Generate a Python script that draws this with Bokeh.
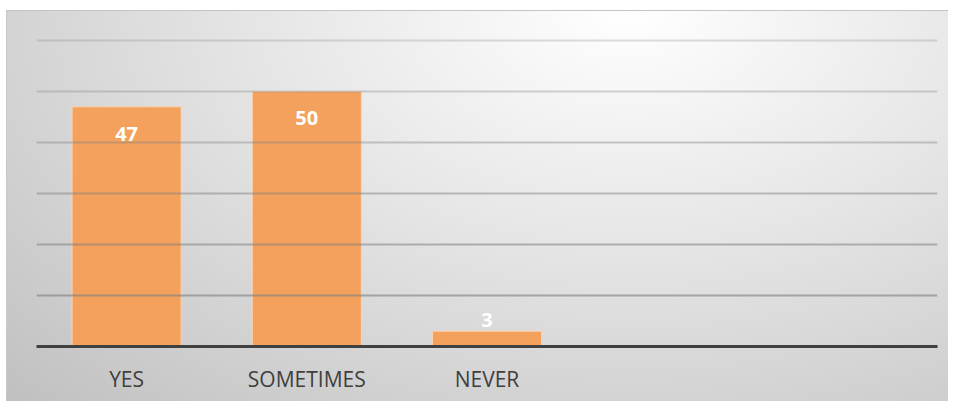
from bokeh.plotting import figure
from bokeh.models import ColumnDataSource, Range1d, FixedTicker, Span
from bokeh.core.properties import value
from bokeh.embed import file_html
from bokeh.resources import INLINE

categories = ["YES", "SOMETIMES", "NEVER"]
counts = [47, 50, 3]
n_slots = 5
grid_levels = [10, 20, 30, 40, 50, 60]

xs = [i + 0.5 for i in range(len(categories))]
label_offsets = [27 if v > 10 else -11 for v in counts]
src = ColumnDataSource(dict(x=xs, top=counts, label=[str(v) for v in counts], yoff=label_offsets))

p = figure(width=942, height=391, output_backend="svg", toolbar_location=None,
           x_range=Range1d(0, n_slots), y_range=Range1d(0, 61.96),
           min_border_left=29, min_border_right=12, min_border_top=19, min_border_bottom=56)
p.styles = {"margin-left": "6px", "margin-top": "10px",
            "background-image": "radial-gradient(ellipse farthest-corner at 66% 0%, #ffffff 0%, #e4e4e4 45%, #c0c0c0 100%)",
            "border-top": "1px solid #c4c4c4", "border-left": "1px solid #c8c8c8"}
p.background_fill_color = None
p.border_fill_color = None
p.outline_line_color = None
p.xgrid.visible = False
p.ygrid.visible = False
p.yaxis.visible = False

for i, g in enumerate(grid_levels):
    p.add_layout(Span(location=g, dimension="width", line_color="#808080",
                      line_alpha=0.62 - 0.07 * i, line_width=2))

p.vbar(x="x", top="top", width=0.605, source=src, fill_color="#F3A15C",
       line_color="#FAD3B3", line_width=1)

p.text(x="x", y="top", text="label", source=src, y_offset="yoff",
       text_align="center", text_baseline="middle", text_color="white",
       text_font=value("Open Sans"), text_font_style="bold", text_font_size="20px")

ax = p.xaxis[0]
ax.ticker = FixedTicker(ticks=xs)
ax.major_label_overrides = {x: c for x, c in zip(xs, categories)}
ax.axis_line_color = "#404040"
ax.axis_line_width = 3
ax.major_tick_line_color = None
ax.minor_tick_line_color = None
ax.major_label_standoff = 12
ax.major_label_text_font = "Open Sans"
ax.major_label_text_font_size = "21px"
ax.major_label_text_color = "#404040"

open("out.html", "w").write(file_html(p, INLINE))
